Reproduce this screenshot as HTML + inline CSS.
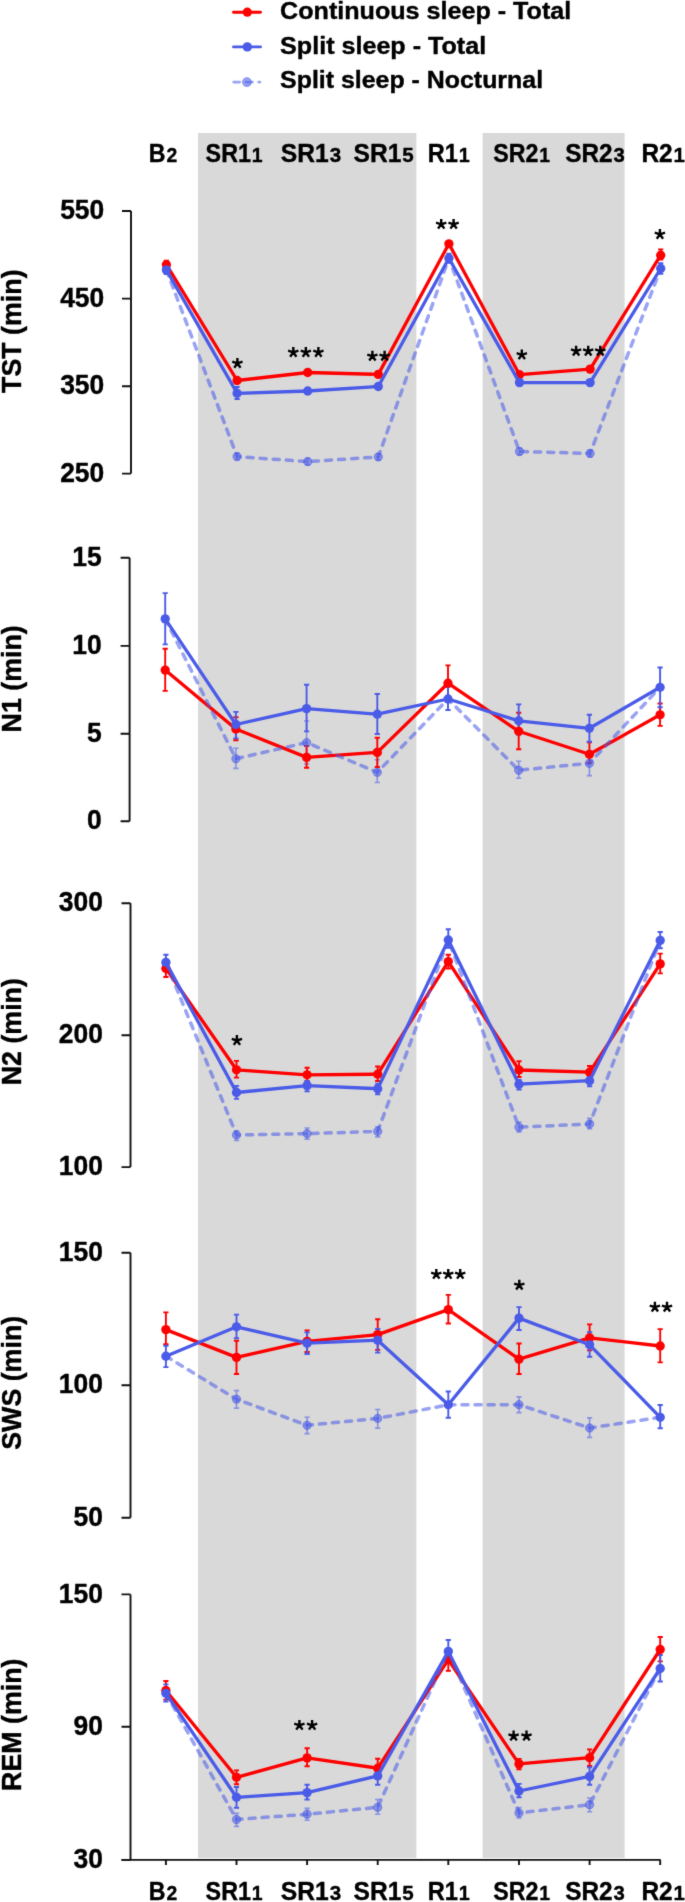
<!DOCTYPE html><html><head><meta charset="utf-8"><style>html,body{margin:0;padding:0;background:#fff;width:685px;height:1902px;overflow:hidden}svg{display:block}text{font-family:"Liberation Sans",sans-serif;font-weight:bold;stroke:#000;stroke-width:0.4px;stroke-linejoin:round}</style></head><body>
<svg width="685" height="1902" viewBox="0 0 685 1902"><defs><filter id="bl" color-interpolation-filters="sRGB" x="0" y="0" width="685" height="1902" filterUnits="userSpaceOnUse"><feConvolveMatrix order="3" kernelMatrix="0.01134 0.08382 0.01134 0.08382 0.61935 0.08382 0.01134 0.08382 0.01134" preserveAlpha="false" edgeMode="duplicate"/></filter></defs><rect width="685" height="1902" fill="#fff"/><g filter="url(#bl)">
<rect x="198" y="133" width="218.4" height="1725" fill="#d9d9d9"/>
<rect x="482.6" y="133" width="142" height="1725" fill="#d9d9d9"/>
<path d="M233.5 12.2H260.5" stroke="#ff0000" stroke-width="2.9" stroke-linecap="round"/><circle cx="247.3" cy="12.2" r="4.65" fill="#ff0000"/>
<text transform="translate(280.1 19.0) scale(1.03 1)" font-size="24.4">Continuous sleep - Total</text>
<path d="M233.5 46.9H260.5" stroke="#4a5be8" stroke-width="2.9" stroke-linecap="round"/><circle cx="247.3" cy="46.9" r="4.65" fill="#4a5be8"/>
<text transform="translate(280.1 53.6) scale(1.03 1)" font-size="24.4">Split sleep - Total</text>
<g fill-opacity="0.56" stroke-opacity="0.56"><path d="M233.8 82.1H239.6" stroke="#4a5be8" stroke-width="2.9" stroke-linecap="round" fill="none"/><circle cx="246.9" cy="82.1" r="4.3" fill="#4a5be8" stroke="#4a5be8" stroke-width="1.1"/><path d="M246.3 82.1H252.4M258.8 82.1H259.9" stroke="#4a5be8" stroke-width="2.9" stroke-linecap="round" fill="none"/></g>
<text transform="translate(280.1 88.2) scale(1.03 1)" font-size="24.2">Split sleep - Nocturnal</text>
<text transform="translate(148.85 161.8) scale(0.9187 1)" x="0" y="0" font-size="25.2">B<tspan font-size="21" dx="0.9">2</tspan></text>
<text transform="translate(205.61 161.8) scale(0.9255 1)" x="0" y="0" font-size="25.2">SR1<tspan font-size="21" dx="0.9">1</tspan></text>
<text transform="translate(280.87 161.8) scale(0.9783 1)" x="0" y="0" font-size="25.2">SR1<tspan font-size="21" dx="0.9">3</tspan></text>
<text transform="translate(353.57 161.8) scale(0.9762 1)" x="0" y="0" font-size="25.2">SR1<tspan font-size="21" dx="0.9">5</tspan></text>
<text transform="translate(427.71 161.8) scale(0.9386 1)" x="0" y="0" font-size="25.2">R1<tspan font-size="21" dx="0.9">1</tspan></text>
<text transform="translate(493.31 161.8) scale(0.9219 1)" x="0" y="0" font-size="25.2">SR2<tspan font-size="21" dx="0.9">1</tspan></text>
<text transform="translate(565.17 161.8) scale(0.9667 1)" x="0" y="0" font-size="25.2">SR2<tspan font-size="21" dx="0.9">3</tspan></text>
<text transform="translate(641.45 161.8) scale(0.9710 1)" x="0" y="0" font-size="25.2">R2<tspan font-size="21" dx="0.9">1</tspan></text>
<text transform="translate(148.85 1899.6) scale(0.9187 1)" x="0" y="0" font-size="25.2">B<tspan font-size="21" dx="0.9">2</tspan></text>
<text transform="translate(205.61 1899.6) scale(0.9255 1)" x="0" y="0" font-size="25.2">SR1<tspan font-size="21" dx="0.9">1</tspan></text>
<text transform="translate(280.87 1899.6) scale(0.9783 1)" x="0" y="0" font-size="25.2">SR1<tspan font-size="21" dx="0.9">3</tspan></text>
<text transform="translate(353.57 1899.6) scale(0.9762 1)" x="0" y="0" font-size="25.2">SR1<tspan font-size="21" dx="0.9">5</tspan></text>
<text transform="translate(427.71 1899.6) scale(0.9386 1)" x="0" y="0" font-size="25.2">R1<tspan font-size="21" dx="0.9">1</tspan></text>
<text transform="translate(493.31 1899.6) scale(0.9219 1)" x="0" y="0" font-size="25.2">SR2<tspan font-size="21" dx="0.9">1</tspan></text>
<text transform="translate(565.17 1899.6) scale(0.9667 1)" x="0" y="0" font-size="25.2">SR2<tspan font-size="21" dx="0.9">3</tspan></text>
<text transform="translate(641.45 1899.6) scale(0.9710 1)" x="0" y="0" font-size="25.2">R2<tspan font-size="21" dx="0.9">1</tspan></text>
<path d="M131.0 211.0V473.6M122.0 211.0H131.0M122.0 298.6H131.0M122.0 386.2H131.0M122.0 473.6H131.0" stroke="#111" stroke-width="1.9" fill="none" stroke-linejoin="round"/>
<text transform="translate(104.2 219.1) scale(0.975 1)" font-size="27.1" text-anchor="end" stroke="#000" stroke-width="0.45">550</text>
<text transform="translate(104.2 306.7) scale(0.975 1)" font-size="27.1" text-anchor="end" stroke="#000" stroke-width="0.45">450</text>
<text transform="translate(104.2 394.3) scale(0.975 1)" font-size="27.1" text-anchor="end" stroke="#000" stroke-width="0.45">350</text>
<text transform="translate(104.2 481.7) scale(0.975 1)" font-size="27.1" text-anchor="end" stroke="#000" stroke-width="0.45">250</text>
<text transform="translate(21 331.2) rotate(-90)" x="0" y="0" font-size="26.8" text-anchor="middle">TST (min)</text>
<path d="M237.1 453.4V459.6M234.5 453.4h5.2M234.5 459.6h5.2" stroke="#4a5be8" stroke-width="1.6" fill="none" stroke-opacity="0.56"/><path d="M307.7 458.4V464.8M305.1 458.4h5.2M305.1 464.8h5.2" stroke="#4a5be8" stroke-width="1.6" fill="none" stroke-opacity="0.56"/><path d="M378.3 453.7V460.1M375.7 453.7h5.2M375.7 460.1h5.2" stroke="#4a5be8" stroke-width="1.6" fill="none" stroke-opacity="0.56"/><path d="M519.5 448.3V454.7M516.9 448.3h5.2M516.9 454.7h5.2" stroke="#4a5be8" stroke-width="1.6" fill="none" stroke-opacity="0.56"/><path d="M590.1 450.2V456.6M587.5 450.2h5.2M587.5 456.6h5.2" stroke="#4a5be8" stroke-width="1.6" fill="none" stroke-opacity="0.56"/>
<path d="M166.4 260.8V269M163.8 260.8h5.2M163.8 269h5.2" stroke="#ff0000" stroke-width="1.9" fill="none"/><path d="M660.7 249.4V259.5M658.1 249.4h5.2M658.1 259.5h5.2" stroke="#ff0000" stroke-width="1.9" fill="none"/>
<path d="M166.4 265.5V274M163.8 265.5h5.2M163.8 274h5.2" stroke="#4a5be8" stroke-width="1.9" fill="none"/><path d="M237.1 387V399M234.5 387h5.2M234.5 399h5.2" stroke="#4a5be8" stroke-width="1.9" fill="none"/><path d="M448.9 253.6V262.7M446.3 253.6h5.2M446.3 262.7h5.2" stroke="#4a5be8" stroke-width="1.9" fill="none"/><path d="M660.7 263.3V273.8M658.1 263.3h5.2M658.1 273.8h5.2" stroke="#4a5be8" stroke-width="1.9" fill="none"/>
<polyline points="166.4,264.7 237.1,380.5 307.7,372.5 378.3,374.4 448.9,243.8 519.5,374.7 590.1,369.1 660.7,255.2" fill="none" stroke="#ff0000" stroke-width="3.3" stroke-linejoin="round"/><circle cx="166.4" cy="264.7" r="4.65" fill="#ff0000"/><circle cx="237.1" cy="380.5" r="4.65" fill="#ff0000"/><circle cx="307.7" cy="372.5" r="4.65" fill="#ff0000"/><circle cx="378.3" cy="374.4" r="4.65" fill="#ff0000"/><circle cx="448.9" cy="243.8" r="4.65" fill="#ff0000"/><circle cx="519.5" cy="374.7" r="4.65" fill="#ff0000"/><circle cx="590.1" cy="369.1" r="4.65" fill="#ff0000"/><circle cx="660.7" cy="255.2" r="4.65" fill="#ff0000"/>
<g fill-opacity="0.56" stroke-opacity="0.56"><polyline points="166.4,269.9 237.1,456.6 307.7,461.6 378.3,456.9 448.9,258.2 519.5,451.5 590.1,453.4 660.7,268.5" fill="none" stroke="#4a5be8" stroke-width="3.5" stroke-dasharray="6.1 7.0" stroke-linecap="round" stroke-linejoin="round"/><circle cx="237.1" cy="456.6" r="4.15" fill="#4a5be8" stroke="#4a5be8" stroke-width="1"/><circle cx="307.7" cy="461.6" r="4.15" fill="#4a5be8" stroke="#4a5be8" stroke-width="1"/><circle cx="378.3" cy="456.9" r="4.15" fill="#4a5be8" stroke="#4a5be8" stroke-width="1"/><circle cx="519.5" cy="451.5" r="4.15" fill="#4a5be8" stroke="#4a5be8" stroke-width="1"/><circle cx="590.1" cy="453.4" r="4.15" fill="#4a5be8" stroke="#4a5be8" stroke-width="1"/></g>
<polyline points="166.4,269.9 237.1,393.3 307.7,391.0 378.3,386.5 448.9,258.2 519.5,382.6 590.1,382.6 660.7,268.5" fill="none" stroke="#4a5be8" stroke-width="3.3" stroke-linejoin="round"/><circle cx="166.4" cy="269.9" r="4.65" fill="#4a5be8"/><circle cx="237.1" cy="393.3" r="4.65" fill="#4a5be8"/><circle cx="307.7" cy="391.0" r="4.65" fill="#4a5be8"/><circle cx="378.3" cy="386.5" r="4.65" fill="#4a5be8"/><circle cx="448.9" cy="258.2" r="4.65" fill="#4a5be8"/><circle cx="519.5" cy="382.6" r="4.65" fill="#4a5be8"/><circle cx="590.1" cy="382.6" r="4.65" fill="#4a5be8"/><circle cx="660.7" cy="268.5" r="4.65" fill="#4a5be8"/>
<path d="M237.40 363.40L237.40 358.00M237.40 363.40L242.54 361.73M237.40 363.40L240.57 367.77M237.40 363.40L234.23 367.77M237.40 363.40L232.26 361.73" stroke="#000" stroke-width="2.4" fill="none"/>
<path d="M293.30 352.40L293.30 347.00M293.30 352.40L298.44 350.73M293.30 352.40L296.47 356.77M293.30 352.40L290.13 356.77M293.30 352.40L288.16 350.73M305.85 352.40L305.85 347.00M305.85 352.40L310.99 350.73M305.85 352.40L309.02 356.77M305.85 352.40L302.68 356.77M305.85 352.40L300.71 350.73M318.40 352.40L318.40 347.00M318.40 352.40L323.54 350.73M318.40 352.40L321.57 356.77M318.40 352.40L315.23 356.77M318.40 352.40L313.26 350.73" stroke="#000" stroke-width="2.4" fill="none"/>
<path d="M372.40 356.20L372.40 350.80M372.40 356.20L377.54 354.53M372.40 356.20L375.57 360.57M372.40 356.20L369.23 360.57M372.40 356.20L367.26 354.53M384.60 356.20L384.60 350.80M384.60 356.20L389.74 354.53M384.60 356.20L387.77 360.57M384.60 356.20L381.43 360.57M384.60 356.20L379.46 354.53" stroke="#000" stroke-width="2.4" fill="none"/>
<path d="M441.20 224.30L441.20 218.90M441.20 224.30L446.34 222.63M441.20 224.30L444.37 228.67M441.20 224.30L438.03 228.67M441.20 224.30L436.06 222.63M453.60 224.30L453.60 218.90M453.60 224.30L458.74 222.63M453.60 224.30L456.77 228.67M453.60 224.30L450.43 228.67M453.60 224.30L448.46 222.63" stroke="#000" stroke-width="2.4" fill="none"/>
<path d="M521.80 354.80L521.80 349.40M521.80 354.80L526.94 353.13M521.80 354.80L524.97 359.17M521.80 354.80L518.63 359.17M521.80 354.80L516.66 353.13" stroke="#000" stroke-width="2.4" fill="none"/>
<path d="M576.10 351.10L576.10 345.70M576.10 351.10L581.24 349.43M576.10 351.10L579.27 355.47M576.10 351.10L572.93 355.47M576.10 351.10L570.96 349.43M588.20 351.10L588.20 345.70M588.20 351.10L593.34 349.43M588.20 351.10L591.37 355.47M588.20 351.10L585.03 355.47M588.20 351.10L583.06 349.43M600.30 351.10L600.30 345.70M600.30 351.10L605.44 349.43M600.30 351.10L603.47 355.47M600.30 351.10L597.13 355.47M600.30 351.10L595.16 349.43" stroke="#000" stroke-width="2.4" fill="none"/>
<path d="M659.90 234.40L659.90 229.00M659.90 234.40L665.04 232.73M659.90 234.40L663.07 238.77M659.90 234.40L656.73 238.77M659.90 234.40L654.76 232.73" stroke="#000" stroke-width="2.4" fill="none"/>
<path d="M129.6 557.7V821.2M120.6 557.7H129.6M120.6 645.9H129.6M120.6 733.8H129.6M120.6 821.2H129.6" stroke="#111" stroke-width="1.9" fill="none" stroke-linejoin="round"/>
<text transform="translate(101.6 565.8) scale(0.975 1)" font-size="27.1" text-anchor="end" stroke="#000" stroke-width="0.45">15</text>
<text transform="translate(101.6 654.0) scale(0.975 1)" font-size="27.1" text-anchor="end" stroke="#000" stroke-width="0.45">10</text>
<text transform="translate(101.6 741.9) scale(0.975 1)" font-size="27.1" text-anchor="end" stroke="#000" stroke-width="0.45">5</text>
<text transform="translate(101.6 829.3) scale(0.975 1)" font-size="27.1" text-anchor="end" stroke="#000" stroke-width="0.45">0</text>
<text transform="translate(21 678.8) rotate(-90)" x="0" y="0" font-size="26.8" text-anchor="middle">N1 (min)</text>
<path d="M235.9 748.2V768.4M233.3 748.2h5.2M233.3 768.4h5.2" stroke="#4a5be8" stroke-width="1.6" fill="none" stroke-opacity="0.56"/><path d="M306.6 721V764M304.0 721h5.2M304.0 764h5.2" stroke="#4a5be8" stroke-width="1.6" fill="none" stroke-opacity="0.56"/><path d="M377.3 759.7V782.5M374.7 759.7h5.2M374.7 782.5h5.2" stroke="#4a5be8" stroke-width="1.6" fill="none" stroke-opacity="0.56"/><path d="M518.7 761.2V778.3M516.1 761.2h5.2M516.1 778.3h5.2" stroke="#4a5be8" stroke-width="1.6" fill="none" stroke-opacity="0.56"/><path d="M589.4 750.7V775.6M586.8 750.7h5.2M586.8 775.6h5.2" stroke="#4a5be8" stroke-width="1.6" fill="none" stroke-opacity="0.56"/>
<path d="M165.2 648.8V690.9M162.6 648.8h5.2M162.6 690.9h5.2" stroke="#ff0000" stroke-width="1.9" fill="none"/><path d="M235.9 717.2V740.3M233.3 717.2h5.2M233.3 740.3h5.2" stroke="#ff0000" stroke-width="1.9" fill="none"/><path d="M306.6 746V767.7M304.0 746h5.2M304.0 767.7h5.2" stroke="#ff0000" stroke-width="1.9" fill="none"/><path d="M377.3 737.8V767M374.7 737.8h5.2M374.7 767h5.2" stroke="#ff0000" stroke-width="1.9" fill="none"/><path d="M448.0 665.4V700M445.4 665.4h5.2M445.4 700h5.2" stroke="#ff0000" stroke-width="1.9" fill="none"/><path d="M518.7 712.7V749.2M516.1 712.7h5.2M516.1 749.2h5.2" stroke="#ff0000" stroke-width="1.9" fill="none"/><path d="M589.4 742.4V763M586.8 742.4h5.2M586.8 763h5.2" stroke="#ff0000" stroke-width="1.9" fill="none"/><path d="M660.1 703.5V725.9M657.5 703.5h5.2M657.5 725.9h5.2" stroke="#ff0000" stroke-width="1.9" fill="none"/>
<path d="M165.2 593.1V644.4M162.6 593.1h5.2M162.6 644.4h5.2" stroke="#4a5be8" stroke-width="1.9" fill="none"/><path d="M235.9 711.9V738.4M233.3 711.9h5.2M233.3 738.4h5.2" stroke="#4a5be8" stroke-width="1.9" fill="none"/><path d="M306.6 684.7V731.4M304.0 684.7h5.2M304.0 731.4h5.2" stroke="#4a5be8" stroke-width="1.9" fill="none"/><path d="M377.3 694V734M374.7 694h5.2M374.7 734h5.2" stroke="#4a5be8" stroke-width="1.9" fill="none"/><path d="M448.0 686.7V710M445.4 686.7h5.2M445.4 710h5.2" stroke="#4a5be8" stroke-width="1.9" fill="none"/><path d="M518.7 704.4V734.5M516.1 704.4h5.2M516.1 734.5h5.2" stroke="#4a5be8" stroke-width="1.9" fill="none"/><path d="M589.4 714.8V741.8M586.8 714.8h5.2M586.8 741.8h5.2" stroke="#4a5be8" stroke-width="1.9" fill="none"/><path d="M660.1 667.5V707.3M657.5 667.5h5.2M657.5 707.3h5.2" stroke="#4a5be8" stroke-width="1.9" fill="none"/>
<polyline points="165.2,670.1 235.9,729.0 306.6,757.4 377.3,752.4 448.0,683.2 518.7,731.3 589.4,754.3 660.1,714.8" fill="none" stroke="#ff0000" stroke-width="3.3" stroke-linejoin="round"/><circle cx="165.2" cy="670.1" r="4.65" fill="#ff0000"/><circle cx="235.9" cy="729.0" r="4.65" fill="#ff0000"/><circle cx="306.6" cy="757.4" r="4.65" fill="#ff0000"/><circle cx="377.3" cy="752.4" r="4.65" fill="#ff0000"/><circle cx="448.0" cy="683.2" r="4.65" fill="#ff0000"/><circle cx="518.7" cy="731.3" r="4.65" fill="#ff0000"/><circle cx="589.4" cy="754.3" r="4.65" fill="#ff0000"/><circle cx="660.1" cy="714.8" r="4.65" fill="#ff0000"/>
<g fill-opacity="0.56" stroke-opacity="0.56"><polyline points="165.2,618.9 235.9,758.7 306.6,742.6 377.3,772.3 448.0,699.0 518.7,770.2 589.4,763.3 660.1,687.3" fill="none" stroke="#4a5be8" stroke-width="3.5" stroke-dasharray="6.1 7.0" stroke-linecap="round" stroke-linejoin="round"/><circle cx="235.9" cy="758.7" r="4.15" fill="#4a5be8" stroke="#4a5be8" stroke-width="1"/><circle cx="306.6" cy="742.6" r="4.15" fill="#4a5be8" stroke="#4a5be8" stroke-width="1"/><circle cx="377.3" cy="772.3" r="4.15" fill="#4a5be8" stroke="#4a5be8" stroke-width="1"/><circle cx="518.7" cy="770.2" r="4.15" fill="#4a5be8" stroke="#4a5be8" stroke-width="1"/><circle cx="589.4" cy="763.3" r="4.15" fill="#4a5be8" stroke="#4a5be8" stroke-width="1"/></g>
<polyline points="165.2,618.9 235.9,724.5 306.6,708.6 377.3,714.2 448.0,699.0 518.7,720.8 589.4,728.3 660.1,687.3" fill="none" stroke="#4a5be8" stroke-width="3.3" stroke-linejoin="round"/><circle cx="165.2" cy="618.9" r="4.65" fill="#4a5be8"/><circle cx="235.9" cy="724.5" r="4.65" fill="#4a5be8"/><circle cx="306.6" cy="708.6" r="4.65" fill="#4a5be8"/><circle cx="377.3" cy="714.2" r="4.65" fill="#4a5be8"/><circle cx="448.0" cy="699.0" r="4.65" fill="#4a5be8"/><circle cx="518.7" cy="720.8" r="4.65" fill="#4a5be8"/><circle cx="589.4" cy="728.3" r="4.65" fill="#4a5be8"/><circle cx="660.1" cy="687.3" r="4.65" fill="#4a5be8"/>
<path d="M130.5 903.2V1167.1M121.5 903.2H130.5M121.5 1035.2H130.5M121.5 1167.1H130.5" stroke="#111" stroke-width="1.9" fill="none" stroke-linejoin="round"/>
<text transform="translate(102.9 911.3) scale(0.975 1)" font-size="27.1" text-anchor="end" stroke="#000" stroke-width="0.45">300</text>
<text transform="translate(102.9 1043.3) scale(0.975 1)" font-size="27.1" text-anchor="end" stroke="#000" stroke-width="0.45">200</text>
<text transform="translate(102.9 1175.2) scale(0.975 1)" font-size="27.1" text-anchor="end" stroke="#000" stroke-width="0.45">100</text>
<text transform="translate(21 1031.7) rotate(-90)" x="0" y="0" font-size="26.8" text-anchor="middle">N2 (min)</text>
<path d="M236.5 1130.8V1140.5M233.9 1130.8h5.2M233.9 1140.5h5.2" stroke="#4a5be8" stroke-width="1.6" fill="none" stroke-opacity="0.56"/><path d="M307.1 1128V1139.1M304.5 1128h5.2M304.5 1139.1h5.2" stroke="#4a5be8" stroke-width="1.6" fill="none" stroke-opacity="0.56"/><path d="M377.7 1126.7V1136.9M375.1 1126.7h5.2M375.1 1136.9h5.2" stroke="#4a5be8" stroke-width="1.6" fill="none" stroke-opacity="0.56"/><path d="M519.0 1122V1132M516.4 1122h5.2M516.4 1132h5.2" stroke="#4a5be8" stroke-width="1.6" fill="none" stroke-opacity="0.56"/><path d="M589.6 1118.4V1128.7M587.0 1118.4h5.2M587.0 1128.7h5.2" stroke="#4a5be8" stroke-width="1.6" fill="none" stroke-opacity="0.56"/>
<path d="M165.9 960V977M163.3 960h5.2M163.3 977h5.2" stroke="#ff0000" stroke-width="1.9" fill="none"/><path d="M236.5 1060.9V1077.6M233.9 1060.9h5.2M233.9 1077.6h5.2" stroke="#ff0000" stroke-width="1.9" fill="none"/><path d="M307.1 1067.8V1081M304.5 1067.8h5.2M304.5 1081h5.2" stroke="#ff0000" stroke-width="1.9" fill="none"/><path d="M377.7 1066.5V1081M375.1 1066.5h5.2M375.1 1081h5.2" stroke="#ff0000" stroke-width="1.9" fill="none"/><path d="M448.3 954.7V968.5M445.7 954.7h5.2M445.7 968.5h5.2" stroke="#ff0000" stroke-width="1.9" fill="none"/><path d="M519.0 1061.2V1077M516.4 1061.2h5.2M516.4 1077h5.2" stroke="#ff0000" stroke-width="1.9" fill="none"/><path d="M589.6 1066V1077M587.0 1066h5.2M587.0 1077h5.2" stroke="#ff0000" stroke-width="1.9" fill="none"/><path d="M660.2 953.6V973.4M657.6 953.6h5.2M657.6 973.4h5.2" stroke="#ff0000" stroke-width="1.9" fill="none"/>
<path d="M165.9 954.7V970M163.3 954.7h5.2M163.3 970h5.2" stroke="#4a5be8" stroke-width="1.9" fill="none"/><path d="M236.5 1085.9V1098.9M233.9 1085.9h5.2M233.9 1098.9h5.2" stroke="#4a5be8" stroke-width="1.9" fill="none"/><path d="M307.1 1081V1091.4M304.5 1081h5.2M304.5 1091.4h5.2" stroke="#4a5be8" stroke-width="1.9" fill="none"/><path d="M377.7 1083.7V1094.2M375.1 1083.7h5.2M375.1 1094.2h5.2" stroke="#4a5be8" stroke-width="1.9" fill="none"/><path d="M448.3 929.2V947.7M445.7 929.2h5.2M445.7 947.7h5.2" stroke="#4a5be8" stroke-width="1.9" fill="none"/><path d="M519.0 1080V1089.5M516.4 1080h5.2M516.4 1089.5h5.2" stroke="#4a5be8" stroke-width="1.9" fill="none"/><path d="M589.6 1075V1086.3M587.0 1075h5.2M587.0 1086.3h5.2" stroke="#4a5be8" stroke-width="1.9" fill="none"/><path d="M660.2 932V948.2M657.6 932h5.2M657.6 948.2h5.2" stroke="#4a5be8" stroke-width="1.9" fill="none"/>
<polyline points="165.9,968.5 236.5,1069.8 307.1,1074.8 377.7,1074.2 448.3,961.6 519.0,1070.0 589.6,1072.2 660.2,963.9" fill="none" stroke="#ff0000" stroke-width="3.3" stroke-linejoin="round"/><circle cx="165.9" cy="968.5" r="4.65" fill="#ff0000"/><circle cx="236.5" cy="1069.8" r="4.65" fill="#ff0000"/><circle cx="307.1" cy="1074.8" r="4.65" fill="#ff0000"/><circle cx="377.7" cy="1074.2" r="4.65" fill="#ff0000"/><circle cx="448.3" cy="961.6" r="4.65" fill="#ff0000"/><circle cx="519.0" cy="1070.0" r="4.65" fill="#ff0000"/><circle cx="589.6" cy="1072.2" r="4.65" fill="#ff0000"/><circle cx="660.2" cy="963.9" r="4.65" fill="#ff0000"/>
<g fill-opacity="0.56" stroke-opacity="0.56"><polyline points="165.9,962.4 236.5,1135.0 307.1,1133.6 377.7,1131.4 448.3,940.0 519.0,1127.2 589.6,1124.0 660.2,940.4" fill="none" stroke="#4a5be8" stroke-width="3.5" stroke-dasharray="6.1 7.0" stroke-linecap="round" stroke-linejoin="round"/><circle cx="236.5" cy="1135.0" r="4.15" fill="#4a5be8" stroke="#4a5be8" stroke-width="1"/><circle cx="307.1" cy="1133.6" r="4.15" fill="#4a5be8" stroke="#4a5be8" stroke-width="1"/><circle cx="377.7" cy="1131.4" r="4.15" fill="#4a5be8" stroke="#4a5be8" stroke-width="1"/><circle cx="519.0" cy="1127.2" r="4.15" fill="#4a5be8" stroke="#4a5be8" stroke-width="1"/><circle cx="589.6" cy="1124.0" r="4.15" fill="#4a5be8" stroke="#4a5be8" stroke-width="1"/></g>
<polyline points="165.9,962.4 236.5,1092.5 307.1,1085.6 377.7,1088.7 448.3,940.0 519.0,1084.2 589.6,1080.7 660.2,940.4" fill="none" stroke="#4a5be8" stroke-width="3.3" stroke-linejoin="round"/><circle cx="165.9" cy="962.4" r="4.65" fill="#4a5be8"/><circle cx="236.5" cy="1092.5" r="4.65" fill="#4a5be8"/><circle cx="307.1" cy="1085.6" r="4.65" fill="#4a5be8"/><circle cx="377.7" cy="1088.7" r="4.65" fill="#4a5be8"/><circle cx="448.3" cy="940.0" r="4.65" fill="#4a5be8"/><circle cx="519.0" cy="1084.2" r="4.65" fill="#4a5be8"/><circle cx="589.6" cy="1080.7" r="4.65" fill="#4a5be8"/><circle cx="660.2" cy="940.4" r="4.65" fill="#4a5be8"/>
<path d="M236.90 1040.50L236.90 1035.10M236.90 1040.50L242.04 1038.83M236.90 1040.50L240.07 1044.87M236.90 1040.50L233.73 1044.87M236.90 1040.50L231.76 1038.83" stroke="#000" stroke-width="2.4" fill="none"/>
<path d="M130.5 1252.7V1517.8M121.5 1252.7H130.5M121.5 1385.3H130.5M121.5 1517.8H130.5" stroke="#111" stroke-width="1.9" fill="none" stroke-linejoin="round"/>
<text transform="translate(102.9 1260.8) scale(0.975 1)" font-size="27.1" text-anchor="end" stroke="#000" stroke-width="0.45">150</text>
<text transform="translate(102.9 1393.4) scale(0.975 1)" font-size="27.1" text-anchor="end" stroke="#000" stroke-width="0.45">100</text>
<text transform="translate(102.9 1525.9) scale(0.975 1)" font-size="27.1" text-anchor="end" stroke="#000" stroke-width="0.45">50</text>
<text transform="translate(21 1382.8) rotate(-90)" x="0" y="0" font-size="26.8" text-anchor="middle">SWS (min)</text>
<path d="M236.5 1390.6V1408.1M233.9 1390.6h5.2M233.9 1408.1h5.2" stroke="#4a5be8" stroke-width="1.6" fill="none" stroke-opacity="0.56"/><path d="M307.1 1417.3V1433.6M304.5 1417.3h5.2M304.5 1433.6h5.2" stroke="#4a5be8" stroke-width="1.6" fill="none" stroke-opacity="0.56"/><path d="M377.7 1409.5V1428.1M375.1 1409.5h5.2M375.1 1428.1h5.2" stroke="#4a5be8" stroke-width="1.6" fill="none" stroke-opacity="0.56"/><path d="M519.0 1396.9V1412.6M516.4 1396.9h5.2M516.4 1412.6h5.2" stroke="#4a5be8" stroke-width="1.6" fill="none" stroke-opacity="0.56"/><path d="M589.6 1417.9V1437.4M587.0 1417.9h5.2M587.0 1437.4h5.2" stroke="#4a5be8" stroke-width="1.6" fill="none" stroke-opacity="0.56"/>
<path d="M165.9 1312.4V1344.3M163.3 1312.4h5.2M163.3 1344.3h5.2" stroke="#ff0000" stroke-width="1.9" fill="none"/><path d="M236.5 1340.7V1374M233.9 1340.7h5.2M233.9 1374h5.2" stroke="#ff0000" stroke-width="1.9" fill="none"/><path d="M307.1 1330.4V1352M304.5 1330.4h5.2M304.5 1352h5.2" stroke="#ff0000" stroke-width="1.9" fill="none"/><path d="M377.7 1319.3V1349.9M375.1 1319.3h5.2M375.1 1349.9h5.2" stroke="#ff0000" stroke-width="1.9" fill="none"/><path d="M448.3 1294.9V1323.5M445.7 1294.9h5.2M445.7 1323.5h5.2" stroke="#ff0000" stroke-width="1.9" fill="none"/><path d="M519.0 1343.5V1374M516.4 1343.5h5.2M516.4 1374h5.2" stroke="#ff0000" stroke-width="1.9" fill="none"/><path d="M589.6 1324.4V1350.4M587.0 1324.4h5.2M587.0 1350.4h5.2" stroke="#ff0000" stroke-width="1.9" fill="none"/><path d="M660.2 1329.1V1362.4M657.6 1329.1h5.2M657.6 1362.4h5.2" stroke="#ff0000" stroke-width="1.9" fill="none"/>
<path d="M165.9 1345.7V1367.1M163.3 1345.7h5.2M163.3 1367.1h5.2" stroke="#4a5be8" stroke-width="1.9" fill="none"/><path d="M236.5 1314.6V1338.2M233.9 1314.6h5.2M233.9 1338.2h5.2" stroke="#4a5be8" stroke-width="1.9" fill="none"/><path d="M307.1 1332.4V1354M304.5 1332.4h5.2M304.5 1354h5.2" stroke="#4a5be8" stroke-width="1.9" fill="none"/><path d="M377.7 1329V1352.6M375.1 1329h5.2M375.1 1352.6h5.2" stroke="#4a5be8" stroke-width="1.9" fill="none"/><path d="M448.3 1391.5V1417.8M445.7 1391.5h5.2M445.7 1417.8h5.2" stroke="#4a5be8" stroke-width="1.9" fill="none"/><path d="M519.0 1307.1V1330M516.4 1307.1h5.2M516.4 1330h5.2" stroke="#4a5be8" stroke-width="1.9" fill="none"/><path d="M589.6 1332.2V1356.7M587.0 1332.2h5.2M587.0 1356.7h5.2" stroke="#4a5be8" stroke-width="1.9" fill="none"/><path d="M660.2 1405V1428.3M657.6 1405h5.2M657.6 1428.3h5.2" stroke="#4a5be8" stroke-width="1.9" fill="none"/>
<polyline points="165.9,1329.6 236.5,1357.4 307.1,1341.3 377.7,1334.6 448.3,1309.6 519.0,1359.2 589.6,1337.9 660.2,1346.0" fill="none" stroke="#ff0000" stroke-width="3.3" stroke-linejoin="round"/><circle cx="165.9" cy="1329.6" r="4.65" fill="#ff0000"/><circle cx="236.5" cy="1357.4" r="4.65" fill="#ff0000"/><circle cx="307.1" cy="1341.3" r="4.65" fill="#ff0000"/><circle cx="377.7" cy="1334.6" r="4.65" fill="#ff0000"/><circle cx="448.3" cy="1309.6" r="4.65" fill="#ff0000"/><circle cx="519.0" cy="1359.2" r="4.65" fill="#ff0000"/><circle cx="589.6" cy="1337.9" r="4.65" fill="#ff0000"/><circle cx="660.2" cy="1346.0" r="4.65" fill="#ff0000"/>
<g fill-opacity="0.56" stroke-opacity="0.56"><polyline points="165.9,1356.2 236.5,1399.2 307.1,1425.3 377.7,1418.4 448.3,1404.8 519.0,1404.7 589.6,1428.0 660.2,1417.3" fill="none" stroke="#4a5be8" stroke-width="3.5" stroke-dasharray="6.1 7.0" stroke-linecap="round" stroke-linejoin="round"/><circle cx="236.5" cy="1399.2" r="4.15" fill="#4a5be8" stroke="#4a5be8" stroke-width="1"/><circle cx="307.1" cy="1425.3" r="4.15" fill="#4a5be8" stroke="#4a5be8" stroke-width="1"/><circle cx="377.7" cy="1418.4" r="4.15" fill="#4a5be8" stroke="#4a5be8" stroke-width="1"/><circle cx="519.0" cy="1404.7" r="4.15" fill="#4a5be8" stroke="#4a5be8" stroke-width="1"/><circle cx="589.6" cy="1428.0" r="4.15" fill="#4a5be8" stroke="#4a5be8" stroke-width="1"/></g>
<polyline points="165.9,1356.2 236.5,1326.8 307.1,1343.2 377.7,1340.2 448.3,1404.8 519.0,1318.1 589.6,1344.8 660.2,1417.3" fill="none" stroke="#4a5be8" stroke-width="3.3" stroke-linejoin="round"/><circle cx="165.9" cy="1356.2" r="4.65" fill="#4a5be8"/><circle cx="236.5" cy="1326.8" r="4.65" fill="#4a5be8"/><circle cx="307.1" cy="1343.2" r="4.65" fill="#4a5be8"/><circle cx="377.7" cy="1340.2" r="4.65" fill="#4a5be8"/><circle cx="448.3" cy="1404.8" r="4.65" fill="#4a5be8"/><circle cx="519.0" cy="1318.1" r="4.65" fill="#4a5be8"/><circle cx="589.6" cy="1344.8" r="4.65" fill="#4a5be8"/><circle cx="660.2" cy="1417.3" r="4.65" fill="#4a5be8"/>
<path d="M436.30 1274.30L436.30 1268.90M436.30 1274.30L441.44 1272.63M436.30 1274.30L439.47 1278.67M436.30 1274.30L433.13 1278.67M436.30 1274.30L431.16 1272.63M448.25 1274.30L448.25 1268.90M448.25 1274.30L453.39 1272.63M448.25 1274.30L451.42 1278.67M448.25 1274.30L445.08 1278.67M448.25 1274.30L443.11 1272.63M460.20 1274.30L460.20 1268.90M460.20 1274.30L465.34 1272.63M460.20 1274.30L463.37 1278.67M460.20 1274.30L457.03 1278.67M460.20 1274.30L455.06 1272.63" stroke="#000" stroke-width="2.4" fill="none"/>
<path d="M519.30 1285.20L519.30 1279.80M519.30 1285.20L524.44 1283.53M519.30 1285.20L522.47 1289.57M519.30 1285.20L516.13 1289.57M519.30 1285.20L514.16 1283.53" stroke="#000" stroke-width="2.4" fill="none"/>
<path d="M654.90 1307.20L654.90 1301.80M654.90 1307.20L660.04 1305.53M654.90 1307.20L658.07 1311.57M654.90 1307.20L651.73 1311.57M654.90 1307.20L649.76 1305.53M667.00 1307.20L667.00 1301.80M667.00 1307.20L672.14 1305.53M667.00 1307.20L670.17 1311.57M667.00 1307.20L663.83 1311.57M667.00 1307.20L661.86 1305.53" stroke="#000" stroke-width="2.4" fill="none"/>
<path d="M130.5 1594.4V1859.9M121.5 1594.4H130.5M121.5 1726.8H130.5M121.5 1859.9H130.5" stroke="#111" stroke-width="1.9" fill="none" stroke-linejoin="round"/>
<text transform="translate(102.9 1602.5) scale(0.975 1)" font-size="27.1" text-anchor="end" stroke="#000" stroke-width="0.45">150</text>
<text transform="translate(102.9 1734.9) scale(0.975 1)" font-size="27.1" text-anchor="end" stroke="#000" stroke-width="0.45">90</text>
<text transform="translate(102.9 1868.0) scale(0.975 1)" font-size="27.1" text-anchor="end" stroke="#000" stroke-width="0.45">30</text>
<text transform="translate(21 1724.7) rotate(-90)" x="0" y="0" font-size="26.8" text-anchor="middle">REM (min)</text>
<path d="M236.5 1813.4V1826.4M233.9 1813.4h5.2M233.9 1826.4h5.2" stroke="#4a5be8" stroke-width="1.6" fill="none" stroke-opacity="0.56"/><path d="M307.1 1808.4V1820.3M304.5 1808.4h5.2M304.5 1820.3h5.2" stroke="#4a5be8" stroke-width="1.6" fill="none" stroke-opacity="0.56"/><path d="M377.7 1799.5V1814.2M375.1 1799.5h5.2M375.1 1814.2h5.2" stroke="#4a5be8" stroke-width="1.6" fill="none" stroke-opacity="0.56"/><path d="M519.0 1807.6V1818M516.4 1807.6h5.2M516.4 1818h5.2" stroke="#4a5be8" stroke-width="1.6" fill="none" stroke-opacity="0.56"/><path d="M589.6 1798V1811.7M587.0 1798h5.2M587.0 1811.7h5.2" stroke="#4a5be8" stroke-width="1.6" fill="none" stroke-opacity="0.56"/>
<path d="M165.9 1681V1699.6M163.3 1681h5.2M163.3 1699.6h5.2" stroke="#ff0000" stroke-width="1.9" fill="none"/><path d="M236.5 1770.4V1784.2M233.9 1770.4h5.2M233.9 1784.2h5.2" stroke="#ff0000" stroke-width="1.9" fill="none"/><path d="M307.1 1748.2V1766.2M304.5 1748.2h5.2M304.5 1766.2h5.2" stroke="#ff0000" stroke-width="1.9" fill="none"/><path d="M377.7 1758.7V1776M375.1 1758.7h5.2M375.1 1776h5.2" stroke="#ff0000" stroke-width="1.9" fill="none"/><path d="M448.3 1651V1670.7M445.7 1651h5.2M445.7 1670.7h5.2" stroke="#ff0000" stroke-width="1.9" fill="none"/><path d="M519.0 1758.9V1769.3M516.4 1758.9h5.2M516.4 1769.3h5.2" stroke="#ff0000" stroke-width="1.9" fill="none"/><path d="M589.6 1749.4V1766M587.0 1749.4h5.2M587.0 1766h5.2" stroke="#ff0000" stroke-width="1.9" fill="none"/><path d="M660.2 1637V1661.4M657.6 1637h5.2M657.6 1661.4h5.2" stroke="#ff0000" stroke-width="1.9" fill="none"/>
<path d="M165.9 1684.4V1701.6M163.3 1684.4h5.2M163.3 1701.6h5.2" stroke="#4a5be8" stroke-width="1.9" fill="none"/><path d="M236.5 1787V1807.8M233.9 1787h5.2M233.9 1807.8h5.2" stroke="#4a5be8" stroke-width="1.9" fill="none"/><path d="M307.1 1784.8V1799.5M304.5 1784.8h5.2M304.5 1799.5h5.2" stroke="#4a5be8" stroke-width="1.9" fill="none"/><path d="M377.7 1767.6V1784.8M375.1 1767.6h5.2M375.1 1784.8h5.2" stroke="#4a5be8" stroke-width="1.9" fill="none"/><path d="M448.3 1640V1662M445.7 1640h5.2M445.7 1662h5.2" stroke="#4a5be8" stroke-width="1.9" fill="none"/><path d="M519.0 1783.9V1797.2M516.4 1783.9h5.2M516.4 1797.2h5.2" stroke="#4a5be8" stroke-width="1.9" fill="none"/><path d="M589.6 1767.2V1784.7M587.0 1767.2h5.2M587.0 1784.7h5.2" stroke="#4a5be8" stroke-width="1.9" fill="none"/><path d="M660.2 1655V1681.5M657.6 1655h5.2M657.6 1681.5h5.2" stroke="#4a5be8" stroke-width="1.9" fill="none"/>
<polyline points="165.9,1690.5 236.5,1777.3 307.1,1757.9 377.7,1768.2 448.3,1659.7 519.0,1763.9 589.6,1757.7 660.2,1649.5" fill="none" stroke="#ff0000" stroke-width="3.3" stroke-linejoin="round"/><circle cx="165.9" cy="1690.5" r="4.65" fill="#ff0000"/><circle cx="236.5" cy="1777.3" r="4.65" fill="#ff0000"/><circle cx="307.1" cy="1757.9" r="4.65" fill="#ff0000"/><circle cx="377.7" cy="1768.2" r="4.65" fill="#ff0000"/><circle cx="448.3" cy="1659.7" r="4.65" fill="#ff0000"/><circle cx="519.0" cy="1763.9" r="4.65" fill="#ff0000"/><circle cx="589.6" cy="1757.7" r="4.65" fill="#ff0000"/><circle cx="660.2" cy="1649.5" r="4.65" fill="#ff0000"/>
<g fill-opacity="0.56" stroke-opacity="0.56"><polyline points="165.9,1693.3 236.5,1819.5 307.1,1814.2 377.7,1807.3 448.3,1651.4 519.0,1813.0 589.6,1804.7 660.2,1668.2" fill="none" stroke="#4a5be8" stroke-width="3.5" stroke-dasharray="6.1 7.0" stroke-linecap="round" stroke-linejoin="round"/><circle cx="236.5" cy="1819.5" r="4.15" fill="#4a5be8" stroke="#4a5be8" stroke-width="1"/><circle cx="307.1" cy="1814.2" r="4.15" fill="#4a5be8" stroke="#4a5be8" stroke-width="1"/><circle cx="377.7" cy="1807.3" r="4.15" fill="#4a5be8" stroke="#4a5be8" stroke-width="1"/><circle cx="519.0" cy="1813.0" r="4.15" fill="#4a5be8" stroke="#4a5be8" stroke-width="1"/><circle cx="589.6" cy="1804.7" r="4.15" fill="#4a5be8" stroke="#4a5be8" stroke-width="1"/></g>
<polyline points="165.9,1693.3 236.5,1797.3 307.1,1792.6 377.7,1775.9 448.3,1651.4 519.0,1791.0 589.6,1776.4 660.2,1668.5" fill="none" stroke="#4a5be8" stroke-width="3.3" stroke-linejoin="round"/><circle cx="165.9" cy="1693.3" r="4.65" fill="#4a5be8"/><circle cx="236.5" cy="1797.3" r="4.65" fill="#4a5be8"/><circle cx="307.1" cy="1792.6" r="4.65" fill="#4a5be8"/><circle cx="377.7" cy="1775.9" r="4.65" fill="#4a5be8"/><circle cx="448.3" cy="1651.4" r="4.65" fill="#4a5be8"/><circle cx="519.0" cy="1791.0" r="4.65" fill="#4a5be8"/><circle cx="589.6" cy="1776.4" r="4.65" fill="#4a5be8"/><circle cx="660.2" cy="1668.5" r="4.65" fill="#4a5be8"/>
<path d="M299.40 1725.30L299.40 1719.90M299.40 1725.30L304.54 1723.63M299.40 1725.30L302.57 1729.67M299.40 1725.30L296.23 1729.67M299.40 1725.30L294.26 1723.63M312.10 1725.30L312.10 1719.90M312.10 1725.30L317.24 1723.63M312.10 1725.30L315.27 1729.67M312.10 1725.30L308.93 1729.67M312.10 1725.30L306.96 1723.63" stroke="#000" stroke-width="2.4" fill="none"/>
<path d="M513.60 1736.00L513.60 1730.60M513.60 1736.00L518.74 1734.33M513.60 1736.00L516.77 1740.37M513.60 1736.00L510.43 1740.37M513.60 1736.00L508.46 1734.33M526.50 1736.00L526.50 1730.60M526.50 1736.00L531.64 1734.33M526.50 1736.00L529.67 1740.37M526.50 1736.00L523.33 1740.37M526.50 1736.00L521.36 1734.33" stroke="#000" stroke-width="2.4" fill="none"/>
<path d="M121.5 1859.9H660.6M165.9 1859.9V1865M236.5 1859.9V1865M307.1 1859.9V1865M377.7 1859.9V1865M448.3 1859.9V1865M519.0 1859.9V1865M589.6 1859.9V1865M660.2 1859.9V1865" stroke="#111" stroke-width="1.9" fill="none"/>
</g></svg></body></html>
